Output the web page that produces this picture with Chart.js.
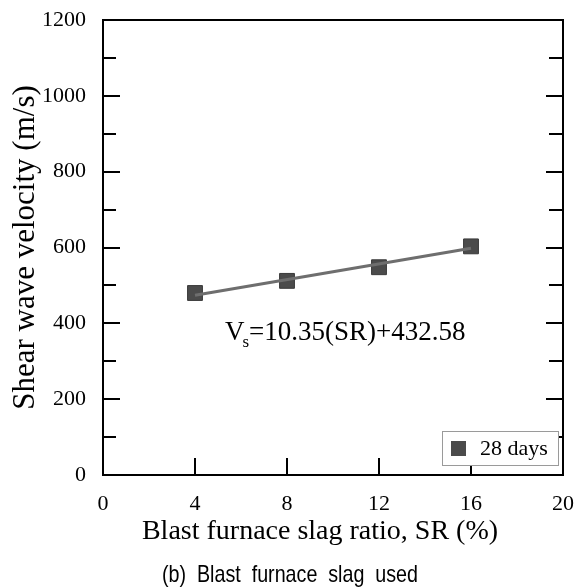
<!DOCTYPE html>
<html>
<head>
<meta charset="utf-8">
<script src="https://cdn.jsdelivr.net/npm/chart.js@4.4.0/dist/chart.umd.min.js"></script>
<style>
  html, body { margin: 0; padding: 0; background: #fff; }
  #wrap { width: 576px; height: 588px; }
</style>
</head>
<body>
<div id="wrap"><canvas id="vsChart" width="576" height="588"></canvas></div>
<script>
// values
const slagRatio = [4, 8, 12, 16];
const shearVelocity = [480, 512, 548, 603];
// Vs = 10.35(SR) + 432.58, read at both ends
const fitX = [4, 16];
const fitY = [474, 598];
const xTickValues = [0, 4, 8, 12, 16, 20];
const yTickValues = [0, 200, 400, 600, 800, 1000, 1200];
const yMinorTicks = [100, 300, 500, 700, 900, 1100];
const seriesLabel = '28 days';
const equationText = ['V', 's', '=10.35(SR)+432.58'];

const serif = '"Liberation Serif", "Times New Roman", serif';
const markerColor = '#4b4b4b';

const decorations = {
    id: 'decorations',
    afterDraw(chart) {
        const ctx = chart.ctx;
        const x = chart.scales.x;
        const y = chart.scales.y;
        const area = chart.chartArea;
        ctx.save();

        // frame
        ctx.strokeStyle = '#000';
        ctx.lineWidth = 2;
        ctx.strokeRect(area.left, area.top, area.right - area.left, area.bottom - area.top);

        // inward ticks
        ctx.beginPath();
        yTickValues.concat(yMinorTicks).forEach(v => {
            if (v === 0 || v === 1200) return;
            const py = Math.round(y.getPixelForValue(v));
            const major = yMinorTicks.indexOf(v) < 0;
            ctx.moveTo(area.left, py);
            ctx.lineTo(area.left + (major ? 17 : 13), py);
            ctx.moveTo(area.right, py);
            ctx.lineTo(area.right - (major ? 17 : 14), py);
        });
        xTickValues.forEach(v => {
            if (v === 0 || v === 20) return;
            const px = Math.round(x.getPixelForValue(v));
            ctx.moveTo(px, area.bottom);
            ctx.lineTo(px, area.bottom - 17);
        });
        ctx.stroke();

        // equation
        ctx.fillStyle = '#000';
        ctx.textBaseline = 'alphabetic';
        ctx.font = '27px ' + serif;
        let ex = 225, ey = 340;
        ctx.fillText(equationText[0], ex, ey);
        ex += ctx.measureText(equationText[0]).width;
        ctx.font = '17px ' + serif;
        ctx.fillText(equationText[1], ex - 2, ey + 7);
        ex += ctx.measureText(equationText[1]).width - 2;
        ctx.font = '27px ' + serif;
        ctx.fillText(equationText[2], ex, ey);

        // legend box
        const lx = 442, ly = 431, lw = 116, lh = 34;
        ctx.fillStyle = '#fff';
        ctx.fillRect(lx, ly, lw, lh);
        ctx.strokeStyle = '#9a9a9a';
        ctx.lineWidth = 1;
        ctx.strokeRect(lx + 0.5, ly + 0.5, lw, lh);
        ctx.fillStyle = markerColor;
        ctx.fillRect(451, 441, 15, 15);
        ctx.fillStyle = '#000';
        ctx.font = '22px ' + serif;
        ctx.textBaseline = 'middle';
        ctx.fillText(seriesLabel, 480, ly + lh / 2 + 1);

        // x axis title
        ctx.font = '28px ' + serif;
        ctx.textAlign = 'center';
        ctx.fillText('Blast furnace slag ratio, SR (%)', 320, 532);

        // caption, condensed sans
        ctx.font = '24px "Liberation Sans", Arial, sans-serif';
        ctx.textAlign = 'left';
        const cap = '(b)  Blast  furnace  slag  used';
        const w = ctx.measureText(cap).width;
        ctx.translate(162, 575);
        ctx.scale(256 / w, 1);
        ctx.fillText(cap, 0, 0);

        ctx.restore();
    }
};

const ctx = document.getElementById('vsChart').getContext('2d');
const vsChart = new Chart(ctx, {
    type: 'scatter',
    data: {
        datasets: [{
            label: 'fit',
            data: fitX.map((v, i) => ({ x: v, y: fitY[i] })),
            showLine: true,
            borderColor: '#6e6e6e',
            borderWidth: 3,
            pointRadius: 0,
            fill: false
        }, {
            label: seriesLabel,
            data: slagRatio.map((v, i) => ({ x: v, y: shearVelocity[i] })),
            pointStyle: 'rect',
            pointRadius: 10.5,
            pointHoverRadius: 10.5,
            backgroundColor: markerColor,
            borderColor: '#3a3a3a',
            borderWidth: 1
        }]
    },
    options: {
        responsive: false,
        animation: false,
        devicePixelRatio: 1,
        layout: { padding: { top: 20, right: 13, left: 0, bottom: 0 } },
        plugins: {
            legend: { display: false },
            tooltip: { enabled: false }
        },
        scales: {
            x: {
                type: 'linear',
                min: 0,
                max: 20,
                afterBuildTicks: s => { s.ticks = xTickValues.map(v => ({ value: v })); },
                afterFit: s => {
                    s.height = 113;
                    s.paddingLeft = 0;
                    s.paddingRight = 0;
                },
                ticks: {
                    padding: 16,
                    color: '#000',
                    maxRotation: 0,
                    autoSkip: false,
                    font: { family: serif, size: 22 },
                    callback: v => String(v)
                },
                grid: { display: false, drawTicks: false },
                border: { display: false }
            },
            y: {
                type: 'linear',
                min: 0,
                max: 1200,
                afterBuildTicks: s => { s.ticks = yTickValues.map(v => ({ value: v })); },
                afterFit: s => {
                    s.width = 103;
                    s.paddingTop = 0;
                    s.paddingBottom = 0;
                },
                ticks: {
                    padding: 17,
                    color: '#000',
                    autoSkip: false,
                    font: { family: serif, size: 22 },
                    callback: v => String(v)
                },
                grid: { display: false, drawTicks: false },
                border: { display: false },
                title: {
                    display: true,
                    text: 'Shear wave velocity (m/s)',
                    color: '#000',
                    font: { family: serif, size: 31 },
                    padding: { top: 7, bottom: 7 }
                }
            }
        }
    },
    plugins: [decorations]
});
</script>
</body>
</html>
